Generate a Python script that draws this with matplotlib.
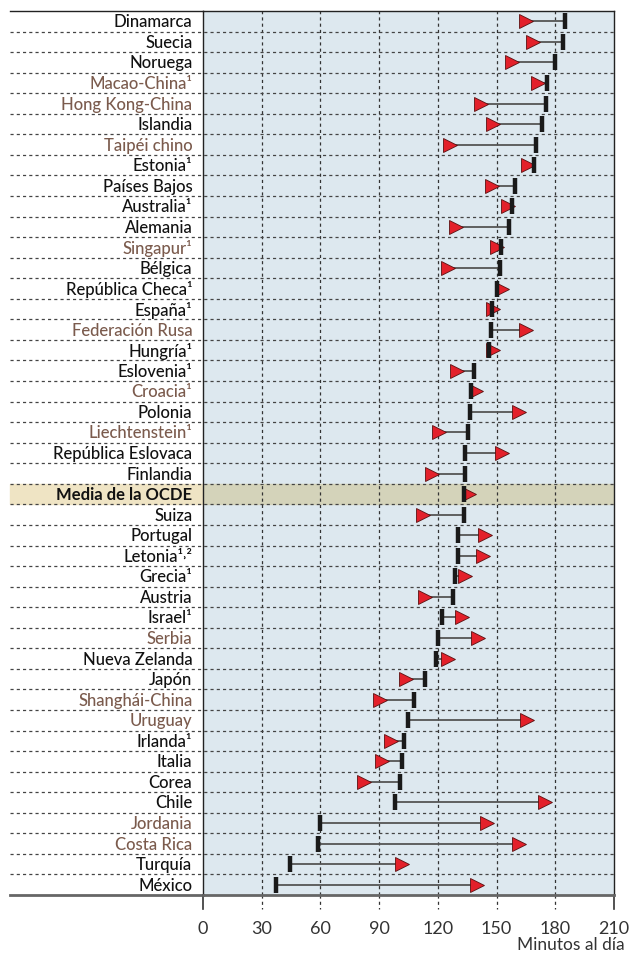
import matplotlib.pyplot as plt
from matplotlib.patches import Rectangle
import matplotlib.transforms as mtransforms

# Datos: minutos al día (barra negra = 2009, triángulo rojo = 2012)
countries = ['Dinamarca', 'Suecia', 'Noruega', 'Macao-China¹', 'Hong Kong-China',
             'Islandia', 'Taipéi chino', 'Estonia¹', 'Países Bajos', 'Australia¹',
             'Alemania', 'Singapur¹', 'Bélgica', 'República Checa¹', 'España¹',
             'Federación Rusa', 'Hungría¹', 'Eslovenia¹', 'Croacia¹', 'Polonia',
             'Liechtenstein¹', 'República Eslovaca', 'Finlandia', 'Media de la OCDE',
             'Suiza', 'Portugal', 'Letonia¹˒²', 'Grecia¹', 'Austria', 'Israel¹',
             'Serbia', 'Nueva Zelanda', 'Japón', 'Shanghái-China', 'Uruguay',
             'Irlanda¹', 'Italia', 'Corea', 'Chile', 'Jordania', 'Costa Rica',
             'Turquía', 'México']
partners = ['Macao-China¹', 'Hong Kong-China', 'Taipéi chino', 'Singapur¹',
            'Federación Rusa', 'Croacia¹', 'Liechtenstein¹', 'Serbia',
            'Shanghái-China', 'Uruguay', 'Jordania', 'Costa Rica']
bar_vals = [185, 184, 179.6, 176, 175, 173, 170, 169, 159.5, 158,
            156.5, 152.5, 151.6, 150, 147.7, 147, 146, 138.5, 137, 136.4,
            135.6, 134, 133.8, 133.3, 133.3, 130.3, 130.3, 128.6, 127.6, 122,
            120, 119, 113.4, 107.7, 104.6, 102.7, 101.7, 100.9, 98, 60,
            58.8, 44.4, 37.2]
tri_vals = [165, 168.5, 158, 171, 142, 148, 126, 166, 147.5, 156,
            129.5, 150, 125, 153, 148.3, 165, 148.3, 130, 139.7, 161.5,
            120.6, 152.7, 117, 136, 112.4, 144, 143, 134, 113.4, 132.3,
            140.5, 125, 103.6, 90.2, 165.8, 96, 91.4, 82.4, 174.6, 145.3,
            161.5, 101.7, 140]
xticks = [0, 30, 60, 90, 120, 150, 180, 210]

plt.rcParams['font.family'] = ['Lato', 'DejaVu Sans']

fig = plt.figure(figsize=(6.3, 9.54), dpi=100)
ax = fig.add_axes([203 / 630, 1 - 896 / 954, 411 / 630, 884 / 954])
ax.set_facecolor('#dde8ef')

n = len(countries)
ax.set_xlim(0, 210)
ax.set_ylim(n - 0.5, -0.5)

# rejilla vertical discontinua
for xv in xticks[1:-1]:
    ax.axvline(xv, color='#333333', lw=0.9, ls=(0, (2.5, 2.5)), zorder=1)

# separadores horizontales (también en la zona de etiquetas)
trans = mtransforms.blended_transform_factory(ax.transAxes, ax.transData)
x_left = (10 - 203) / 411
for i in range(n - 1):
    ax.plot([x_left, 1], [i + 0.5, i + 0.5], transform=trans, color='#444444',
            lw=0.9, ls=(0, (2.5, 2.5)), clip_on=False, zorder=2)

# fila resaltada de la media OCDE
mi = countries.index('Media de la OCDE')
ax.add_patch(Rectangle((x_left, mi - 0.5), -x_left, 1, transform=trans,
                       color='#efe4c4', clip_on=False, zorder=0))
ax.axhspan(mi - 0.5, mi + 0.5, color='#d4d3ba', zorder=0)

# líneas y marcadores
for i in range(n):
    ax.plot([bar_vals[i], tri_vals[i]], [i, i], color='#555555', lw=1.3, zorder=3)
ax.plot(tri_vals, range(n), ls='none', marker='>', ms=10, mfc='#e3202a',
        mec='#5a1010', mew=0.6, zorder=4)
ax.plot(bar_vals, range(n), ls='none', marker='|', ms=11, mew=3.2,
        color='#1a1a1a', zorder=5)

# etiquetas de países
for i, c in enumerate(countries):
    col = '#7b5b4d' if c in partners else '#111111'
    fw = 'bold' if c == 'Media de la OCDE' else 'medium'
    ax.text(-0.026, i, c, transform=trans, ha='right', va='center',
            fontsize=12, color=col, fontweight=fw)

# bordes
for s in ['top', 'left', 'right']:
    ax.spines[s].set_color('#222222')
    ax.spines[s].set_linewidth(1.0)
ax.spines['bottom'].set_color('#666666')
ax.spines['bottom'].set_linewidth(2)
ax.plot([x_left, 0], [1, 1], transform=ax.transAxes, color='#222222', lw=1.0,
        clip_on=False)
ax.plot([x_left, 0], [0, 0], transform=ax.transAxes, color='#666666', lw=2,
        clip_on=False)

ax.set_yticks([])
ax.set_xticks(xticks)
ax.set_xticklabels([str(v) for v in xticks], fontsize=13, color='#333333')
ax.tick_params(axis='x', length=0, pad=18)
for xv in xticks:
    ls = '-' if xv in (0, 210) else (0, (2.5, 2.5))
    lw = 1.2 if xv in (0, 210) else 0.9
    ax.plot([xv, xv], [0, -0.016], transform=mtransforms.blended_transform_factory(
        ax.transData, ax.transAxes), color='#333333', lw=lw, ls=ls, clip_on=False)

fig.text(625 / 630, 1 - 945 / 954, 'Minutos al día', ha='right', va='center',
         fontsize=12.5, color='#333333')

fig.savefig('out.png', dpi=100)
